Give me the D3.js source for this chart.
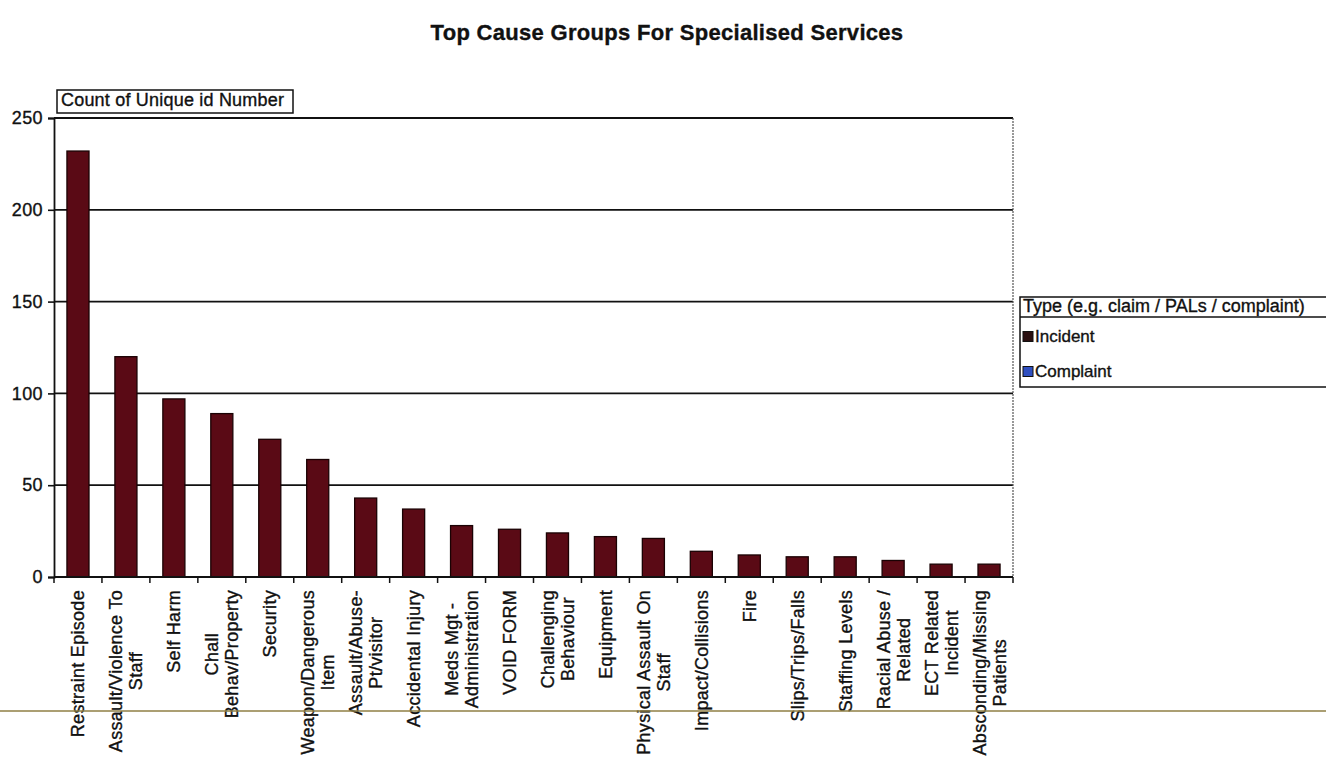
<!DOCTYPE html>
<html>
<head>
<meta charset="utf-8">
<script src="https://cdn.jsdelivr.net/npm/d3@7"></script>
<style>
  html, body { margin: 0; padding: 0; background: #ffffff; }
  svg { display: block; }
  text { font-family: "Liberation Sans", Arial, sans-serif; fill: #111; stroke: #111; stroke-width: 0.35px; }
</style>
</head>
<body>
<svg id="chart" width="1326" height="762"></svg>
<script>
// Cause groups (line breaks mark where the axis labels wrap)
const categories = [
  "Restraint Episode",
  "Assault/Violence To\nStaff",
  "Self Harm",
  "Chall\nBehav/Property",
  "Security",
  "Weapon/Dangerous\nItem",
  "Assault/Abuse-\nPt/visitor",
  "Accidental Injury",
  "Meds Mgt -\nAdministration",
  "VOID FORM",
  "Challenging\nBehaviour",
  "Equipment",
  "Physical Assault On\nStaff",
  "Impact/Collisions",
  "Fire",
  "Slips/Trips/Falls",
  "Staffing Levels",
  "Racial Abuse /\nRelated",
  "ECT Related\nIncident",
  "Absconding/Missing\nPatients"
];

// Count of unique id numbers per cause group (type = Incident)
const incidentCounts = [232, 120, 97, 89, 75, 64, 43, 37, 28, 26, 24, 22, 21, 14, 12, 11, 11, 9, 7, 7];

const yTicks = [0, 50, 100, 150, 200, 250];
const seriesNames = ["Incident", "Complaint"];
const seriesColors = ["#2a0f10", "#2f4fc0"];

const chartTitle = "Top Cause Groups For Specialised Services";
const fieldLabel = "Count of Unique id Number";
const legendTitle = "Type (e.g. claim / PALs / complaint)";

const svg = d3.select("#chart");

const plot = { left: 54, right: 1013, top: 118, bottom: 577 };

const x = d3.scaleBand()
  .domain(d3.range(categories.length))
  .range([plot.left, plot.right])
  .paddingInner(0.54)
  .paddingOuter(0.27);

const y = d3.scaleLinear()
  .domain([0, 250])
  .range([plot.bottom, plot.top]);

// Title
svg.append("text")
  .attr("x", 667).attr("y", 40)
  .attr("text-anchor", "middle")
  .style("font-size", "22px")
  .style("font-weight", "bold")
  .style("letter-spacing", "0.3px")
  .text(chartTitle);

// Horizontal gridlines
svg.append("g")
  .selectAll("line")
  .data(yTicks.filter(d => d > 0))
  .join("line")
  .attr("x1", plot.left).attr("x2", plot.right)
  .attr("y1", d => y(d)).attr("y2", d => y(d))
  .attr("stroke", "#111").attr("stroke-width", 1.8);

// Dotted right edge of the plot area
svg.append("line")
  .attr("x1", plot.right).attr("x2", plot.right)
  .attr("y1", plot.top).attr("y2", plot.bottom)
  .attr("stroke", "#555").attr("stroke-width", 1.2)
  .attr("stroke-dasharray", "2,1");

// Bars
svg.append("g")
  .selectAll("rect")
  .data(incidentCounts)
  .join("rect")
  .attr("x", (d, i) => x(i))
  .attr("width", x.bandwidth())
  .attr("y", d => y(d))
  .attr("height", d => y(0) - y(d))
  .attr("fill", "#5a0a15")
  .attr("stroke", "#1a0204")
  .attr("stroke-width", 1.3);

// Y axis
const yAxis = d3.axisLeft(y).tickValues(yTicks).tickSize(6).tickPadding(5);
const gy = svg.append("g")
  .attr("transform", `translate(${plot.left},0)`)
  .call(yAxis);
gy.select(".domain").attr("stroke", "#111").attr("stroke-width", 1.8);
gy.selectAll(".tick line").attr("stroke", "#111").attr("stroke-width", 1.6);
gy.selectAll(".tick text")
  .attr("fill", "#111")
  .style("font-size", "18px")
  .style("font-family", "'Liberation Sans', Arial, sans-serif")
  .style("letter-spacing", "0.4px");

// X axis (ticks between categories, labels drawn separately)
const boundaries = d3.range(categories.length + 1).map(i =>
  i === categories.length ? plot.right : x(i) - x.step() * x.paddingInner() / 2);
const gx = svg.append("g");
gx.append("line")
  .attr("x1", plot.left).attr("x2", plot.right)
  .attr("y1", plot.bottom).attr("y2", plot.bottom)
  .attr("stroke", "#111").attr("stroke-width", 1.8);
gx.selectAll("line.tick")
  .data(boundaries)
  .join("line")
  .attr("class", "tick")
  .attr("x1", d => d).attr("x2", d => d)
  .attr("y1", plot.bottom).attr("y2", plot.bottom + 6)
  .attr("stroke", "#111").attr("stroke-width", 1.5);

// Rotated, wrapped category labels: each block hangs from the axis,
// lines centred on each other
const labelTop = 590;
const lineGap = 20;
const labels = svg.append("g");
categories.forEach((label, i) => {
  const lines = label.split("\n");
  const cx = x(i) + x.bandwidth() / 2;
  const g = labels.append("g");
  const texts = lines.map(t => g.append("text")
    .style("font-size", "18px")
    .style("letter-spacing", "0.3px")
    .attr("text-anchor", "middle")
    .text(t));
  const maxW = d3.max(texts, t => t.node().getComputedTextLength());
  texts.forEach((t, k) => {
    const off = (k - (lines.length - 1) / 2) * lineGap + 6.5;
    t.attr("transform", `translate(${cx + off},${labelTop + maxW / 2}) rotate(-90)`);
  });
});

// Field button above the value axis
const fb = svg.append("g");
fb.append("rect")
  .attr("x", 57).attr("y", 90).attr("width", 236).attr("height", 23)
  .attr("fill", "#fff").attr("stroke", "#111").attr("stroke-width", 1.5);
fb.append("text")
  .attr("x", 61).attr("y", 106)
  .style("font-size", "18px")
  .style("letter-spacing", "0.2px")
  .text(fieldLabel);

// Legend
const lg = svg.append("g");
const lgX = 1020, lgTop = 297, headH = 20, rowH = 35;
lg.append("rect")
  .attr("x", lgX).attr("y", lgTop)
  .attr("width", 320).attr("height", headH + rowH * seriesNames.length)
  .attr("fill", "#fff").attr("stroke", "#111").attr("stroke-width", 1.5);
lg.append("line")
  .attr("x1", lgX).attr("x2", 1326)
  .attr("y1", lgTop + headH).attr("y2", lgTop + headH)
  .attr("stroke", "#111").attr("stroke-width", 1.3);
lg.append("text")
  .attr("x", lgX + 3).attr("y", lgTop + 15)
  .style("font-size", "18px")
  .text(legendTitle);
seriesNames.forEach((name, i) => {
  const cy = lgTop + headH + rowH * i + rowH / 2 + 3;
  lg.append("rect")
    .attr("x", lgX + 3).attr("y", cy - 6)
    .attr("width", 10).attr("height", 10)
    .attr("fill", seriesColors[i]).attr("stroke", "#111").attr("stroke-width", 1);
  lg.append("text")
    .attr("x", lgX + 15).attr("y", cy + 4)
    .style("font-size", "17px")
    .text(name);
});

// Page rule running across beneath the chart
svg.append("line")
  .attr("x1", 0).attr("x2", 1326)
  .attr("y1", 711).attr("y2", 711)
  .attr("stroke", "#8f7f45").attr("stroke-width", 1.6);
</script>
</body>
</html>
